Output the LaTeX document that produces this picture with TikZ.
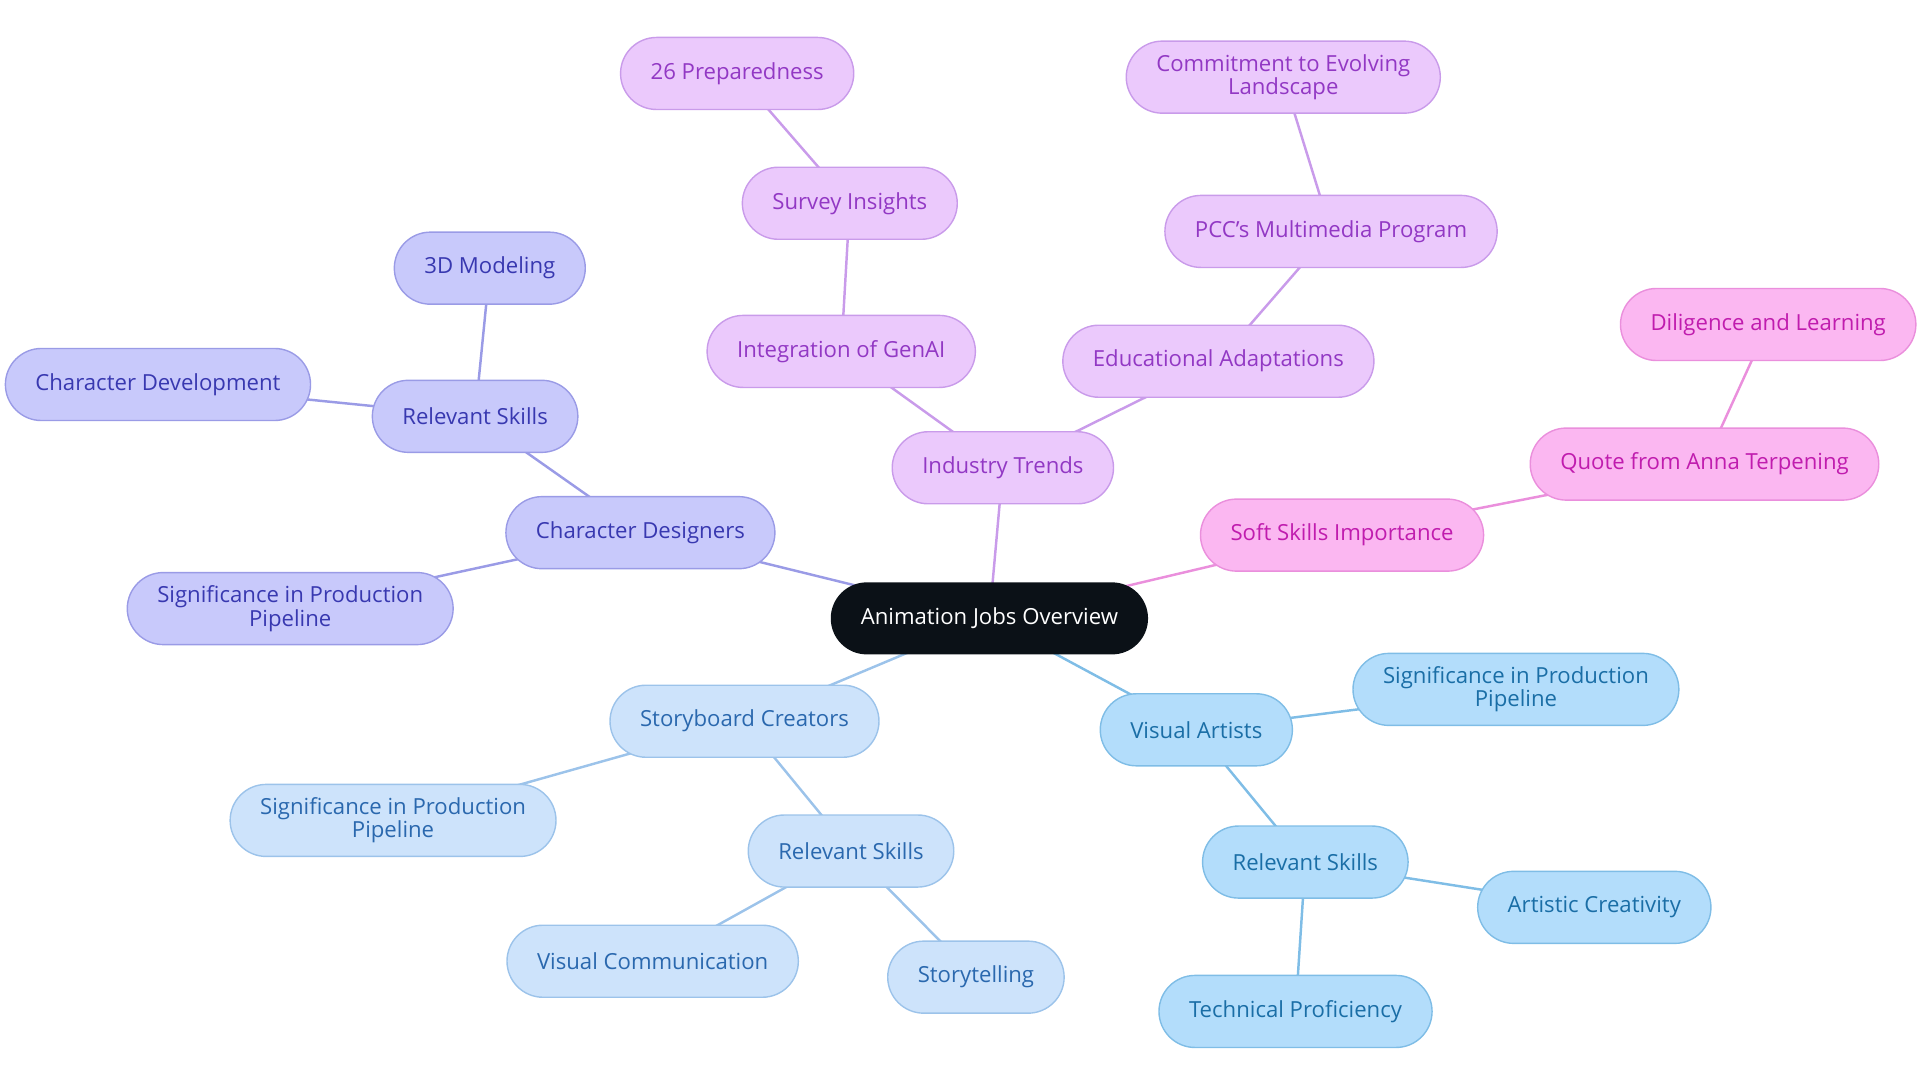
\documentclass[tikz,border=0pt]{standalone}
\usepackage{fontspec}
\setmainfont{Open Sans}
\usetikzlibrary{backgrounds}
\definecolor{cdfill}{HTML}{C8C9FB}\definecolor{cdline}{HTML}{9A9BE6}\definecolor{cdtext}{HTML}{3838B0}
\definecolor{itfill}{HTML}{EBC9FC}\definecolor{itline}{HTML}{C99BEA}\definecolor{ittext}{HTML}{9238C4}
\definecolor{ssfill}{HTML}{FBB7F1}\definecolor{ssline}{HTML}{EA8FDC}\definecolor{sstext}{HTML}{C01CAE}
\definecolor{sbfill}{HTML}{CDE3FB}\definecolor{sbline}{HTML}{9CC3EA}\definecolor{sbtext}{HTML}{2A68AE}
\definecolor{vafill}{HTML}{B3DDFB}\definecolor{valine}{HTML}{7FBDE6}\definecolor{vatext}{HTML}{1A6EA6}
\definecolor{rootfill}{HTML}{0B1117}
\tikzset{
	box/.style={rounded corners=0.36cm, minimum height=0.72cm, inner xsep=0.3cm, inner ysep=0.06cm, align=center, font=\fontsize{6.3}{6.6}\selectfont, line width=0.4pt},
	cd/.style={box, fill=cdfill, draw=cdline, text=cdtext},
	it/.style={box, fill=itfill, draw=itline, text=ittext},
	ss/.style={box, fill=ssfill, draw=ssline, text=sstext},
	sb/.style={box, fill=sbfill, draw=sbline, text=sbtext},
	va/.style={box, fill=vafill, draw=valine, text=vatext},
	lk/.style={line width=0.7pt}
}
\begin{document}
\begin{tikzpicture}[x=0.012245cm,y=-0.012245cm]
	\useasboundingbox (0,0) rectangle (1568,884);
	\node[box, fill=rootfill, text=white, minimum width=2.9cm] (root) at (808,505) {Animation Jobs Overview};
	% character designers
	\node[cd] (cd) at (523,435) {Character Designers};
	\node[cd] (cdrs) at (388,340) {Relevant Skills};
	\node[cd] (cd3d) at (400,219) {3D Modeling};
	\node[cd] (cddev) at (129,314) {Character Development};
	\node[cd] (cdsig) at (237,497) {Significance in Production\\Pipeline};
	% industry trends
	\node[it] (it) at (819,382) {Industry Trends};
	\node[it] (itgen) at (687,287) {Integration of GenAI};
	\node[it] (itsur) at (694,166) {Survey Insights};
	\node[it] (itprep) at (602,60) {26 Preparedness};
	\node[it] (itedu) at (995,295) {Educational Adaptations};
	\node[it] (itpcc) at (1087,189) {PCC's Multimedia Program};
	\node[it] (itcom) at (1048,63) {Commitment to Evolving\\Landscape};
	% soft skills
	\node[ss] (ss) at (1096,437) {Soft Skills Importance};
	\node[ss] (ssq) at (1392,379) {Quote from Anna Terpening};
	\node[ss] (ssdil) at (1444,265) {Diligence and Learning};
	% storyboard creators
	\node[sb] (sb) at (608,589) {Storyboard Creators};
	\node[sb] (sbsig) at (321,670) {Significance in Production\\Pipeline};
	\node[sb] (sbrs) at (695,695) {Relevant Skills};
	\node[sb] (sbvc) at (533,785) {Visual Communication};
	\node[sb] (sbst) at (797,798) {Storytelling};
	% visual artists
	\node[va] (va) at (977,596) {Visual Artists};
	\node[va] (vasig) at (1238,563) {Significance in Production\\Pipeline};
	\node[va] (vars) at (1066,704) {Relevant Skills};
	\node[va] (vaart) at (1302,741) {Artistic Creativity};
	\node[va] (vatec) at (1058,826) {Technical Proficiency};
	\begin{scope}[on background layer]
		\draw[lk, cdline] (root.center)--(cd.center) (cd.center)--(cdrs.center) (cdrs.center)--(cd3d.center) (cdrs.center)--(cddev.center) (cd.center)--(cdsig.center);
		\draw[lk, itline] (root.center)--(it.center) (it.center)--(itgen.center) (itgen.center)--(itsur.center) (itsur.center)--(itprep.center) (it.center)--(itedu.center) (itedu.center)--(itpcc.center) (itpcc.center)--(itcom.center);
		\draw[lk, ssline] (root.center)--(ss.center) (ss.center)--(ssq.center) (ssq.center)--(ssdil.center);
		\draw[lk, sbline] (root.center)--(sb.center) (sb.center)--(sbsig.center) (sb.center)--(sbrs.center) (sbrs.center)--(sbvc.center) (sbrs.center)--(sbst.center);
		\draw[lk, valine] (root.center)--(va.center) (va.center)--(vasig.center) (va.center)--(vars.center) (vars.center)--(vaart.center) (vars.center)--(vatec.center);
	\end{scope}
\end{tikzpicture}
\end{document}
